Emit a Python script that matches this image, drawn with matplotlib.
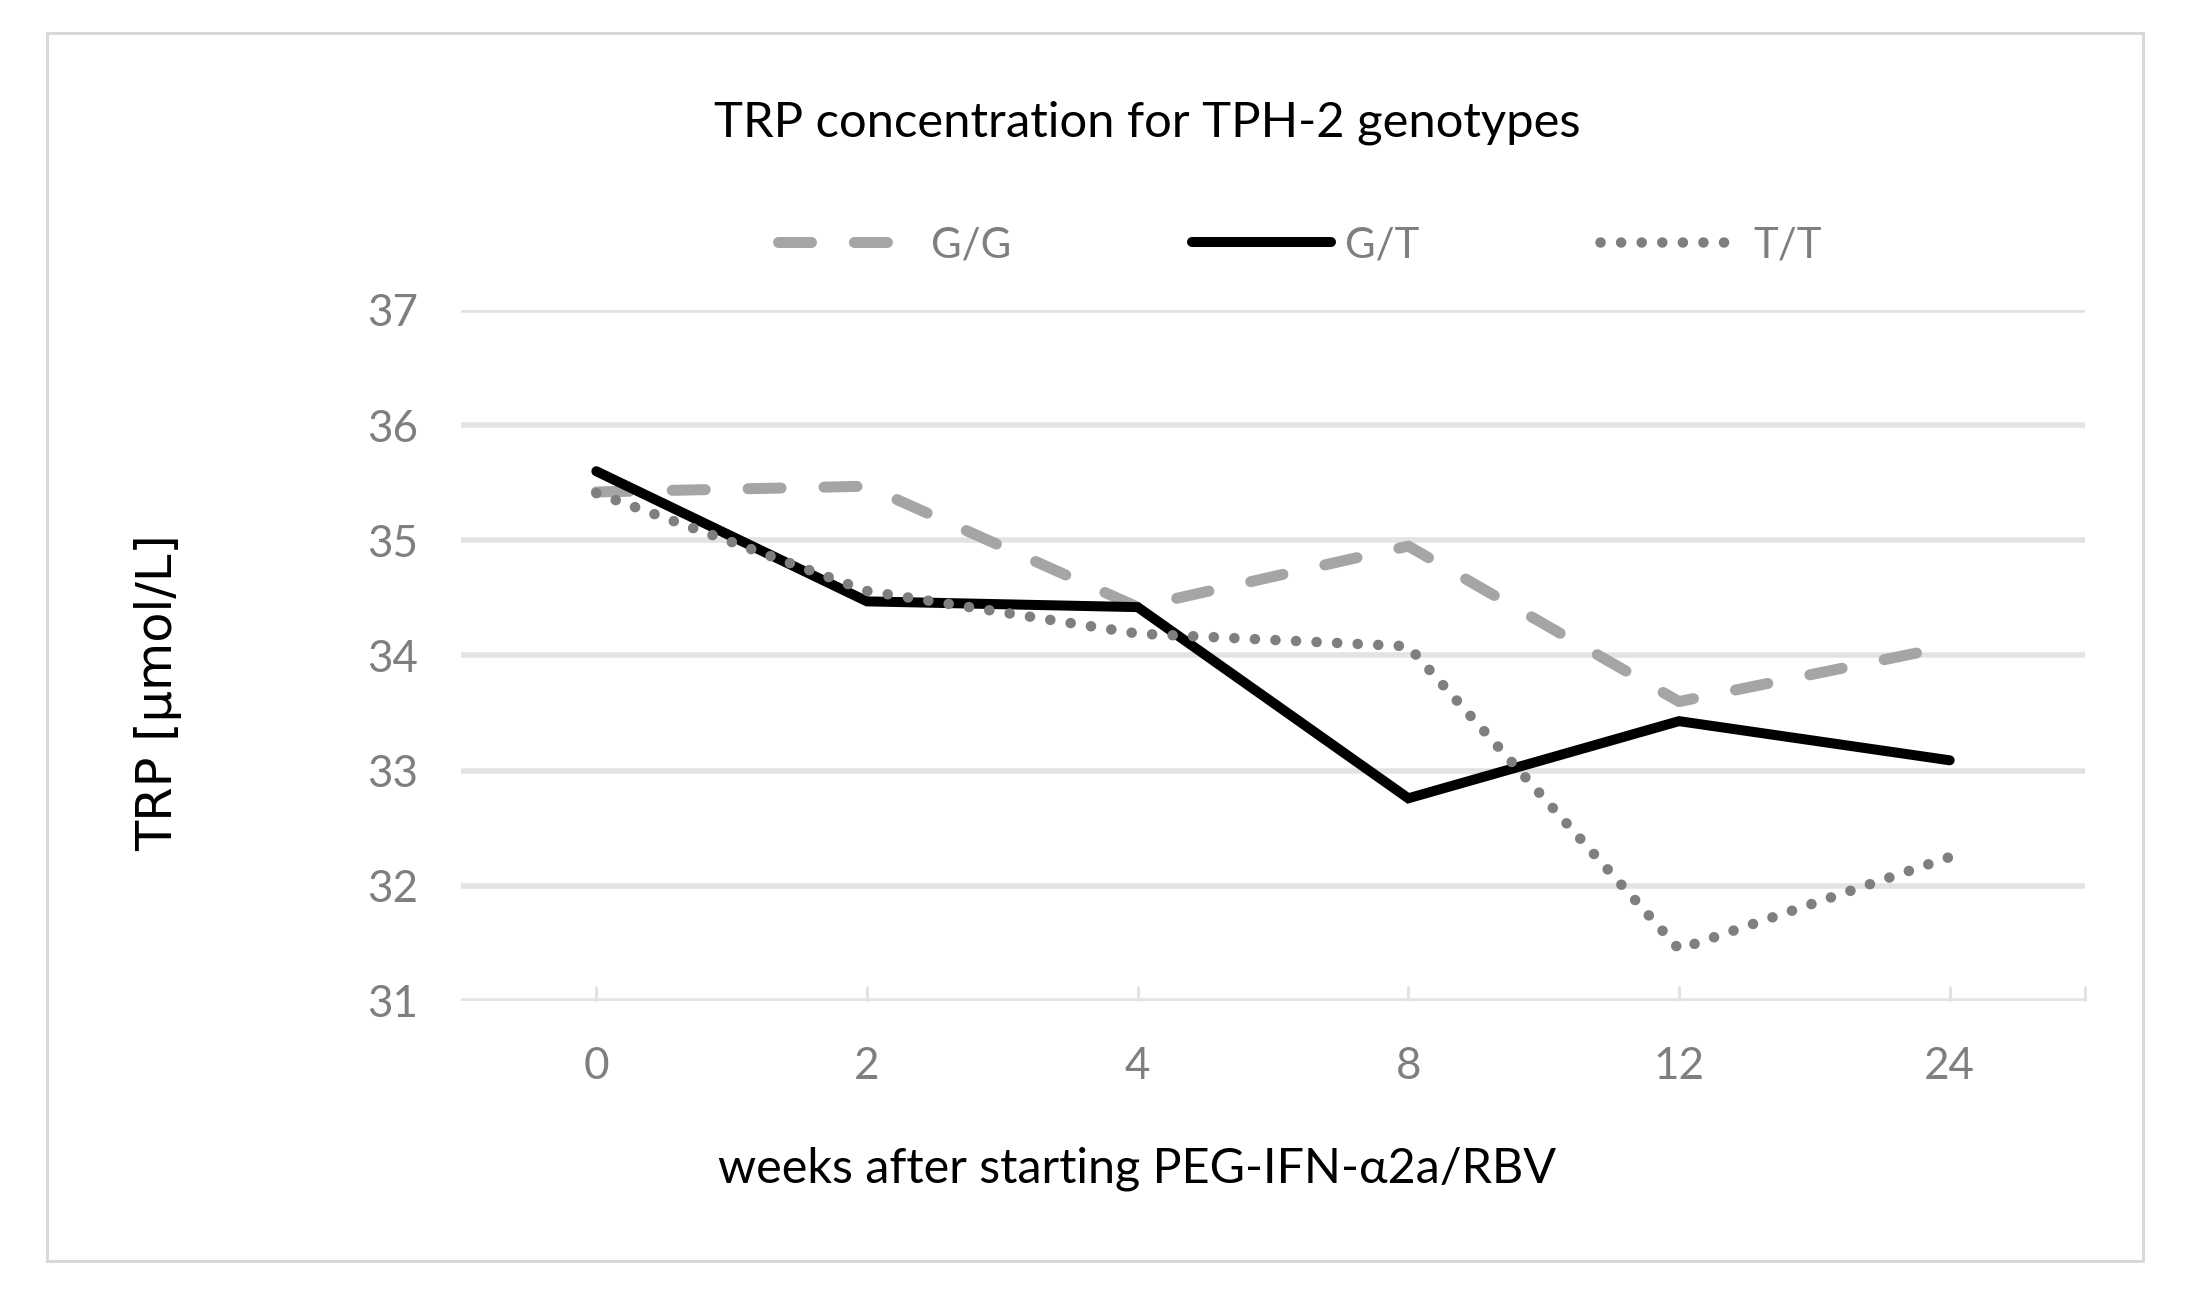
import matplotlib
matplotlib.use("Agg")
import matplotlib.pyplot as plt
from matplotlib.patches import Rectangle

weeks = ["0", "2", "4", "8", "12", "24"]
gg = [35.42, 35.47, 34.42, 34.95, 33.60, 34.08]
gt = [35.60, 34.47, 34.42, 32.76, 33.43, 33.09]
tt = [35.41, 34.56, 34.19, 34.08, 31.45, 32.25]
series_labels = ["G/G", "G/T", "T/T"]
yticks = [31, 32, 33, 34, 35, 36, 37]

DPI = 200
W, H = 2187, 1293
fig = plt.figure(figsize=(W / DPI, H / DPI), dpi=DPI)
fig.patch.set_facecolor("white")

FONT = ["Lato", "DejaVu Sans"]

def px(p):
    return p * 72.0 / DPI

# outer border
fig.patches.append(Rectangle((47 / W, 1 - 1261 / H), (2143 - 47) / W, (1261 - 33) / H,
                             transform=fig.transFigure, fill=False,
                             edgecolor="#D9D9D9", linewidth=px(3)))

left, right = 461 / W, 2085 / W
bottom, top = 1 - 1001 / H, 1 - 310 / H
ax = fig.add_axes([left, bottom, right - left, top - bottom])

x = list(range(len(weeks)))
grid_c = "#E3E3E3"
for y in yticks:
    ax.axhline(y, color=grid_c, linewidth=px(5.5), zorder=0)

l1, = ax.plot(x, gg, color="#A5A5A5", linewidth=px(11), linestyle=(0, (3, 3.9)),
              dash_capstyle="round", solid_capstyle="round", zorder=3, label=series_labels[0])
l2, = ax.plot(x, gt, color="#000000", linewidth=px(10), solid_capstyle="round",
              solid_joinstyle="miter", zorder=4, label=series_labels[1])
l3, = ax.plot(x, tt, color="#7F7F7F", linewidth=px(10.5), linestyle=(0, (0.01, 1.95)),
              dash_capstyle="round", zorder=5, label=series_labels[2])

ax.set_xlim(-0.5, len(weeks) - 0.5)
ax.set_ylim(31, 37)
ax.set_xticks(x)
ax.set_xticklabels(weeks)
ax.set_yticks(yticks)
ax.set_yticklabels([str(v) for v in yticks])
ax.set_xticks([len(weeks) - 0.5], minor=True)

for s in ax.spines.values():
    s.set_visible(False)
ax.tick_params(axis="y", length=0, pad=px(43), labelsize=px(44), labelcolor="#7F7F7F")
ax.tick_params(axis="x", which="both", direction="in", length=px(15), width=px(3),
               color=grid_c, pad=px(45), labelsize=px(44), labelcolor="#7F7F7F")
ax.tick_params(axis="x", which="minor", labelbottom=False)
for lab in ax.get_xticklabels() + ax.get_yticklabels():
    lab.set_family(FONT)
ax.set_facecolor("none")

fig.text(1147 / W, 1 - 123 / H, "TRP concentration for TPH-2 genotypes",
         ha="center", va="center", fontsize=px(49), family=FONT, color="#000000")
fig.text(1137 / W, 1 - 1169 / H, "weeks after starting PEG-IFN-\u03b12a/RBV",
         ha="center", va="center", fontsize=px(48.5), family=FONT, color="#000000")
fig.text(158 / W, 1 - 693 / H, "TRP [\u00b5mol/L]", rotation=90,
         ha="center", va="center", fontsize=px(49.5), family=["DejaVu Sans"], color="#000000")

leg = fig.legend(handles=[l1, l2, l3], labels=series_labels, loc="center",
                 bbox_to_anchor=(1300 / W, 1 - 245 / H), ncol=3, frameon=False,
                 prop={"family": FONT, "size": px(42)}, handlelength=3.3,
                 handletextpad=0.35, columnspacing=4.3)
for t in leg.get_texts():
    t.set_color("#7F7F7F")

fig.savefig("out.png", dpi=DPI, facecolor="white")
